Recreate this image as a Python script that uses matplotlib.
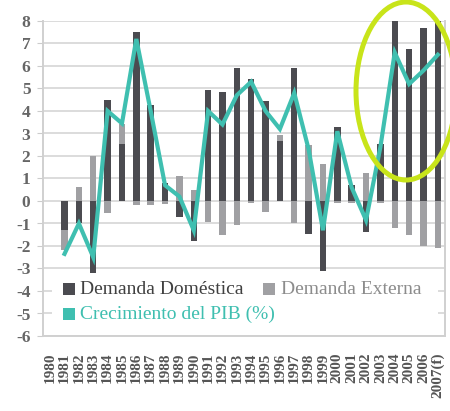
import numpy as np
import matplotlib
matplotlib.use("Agg")
import matplotlib.pyplot as plt
from matplotlib.patches import Rectangle, Ellipse

years = ["1980", "1981", "1982", "1983", "1984", "1985", "1986", "1987", "1988", "1989",
         "1990", "1991", "1992", "1993", "1994", "1995", "1996", "1997", "1998", "1999",
         "2000", "2001", "2002", "2003", "2004", "2005", "2006", "2007(f)"]
dom = [np.nan, -1.3, -1.0, -3.2, 4.5, 2.55, 7.5, 4.25, 0.8, -0.7,
       -1.8, 4.95, 4.85, 5.9, 5.4, 4.45, 2.65, 5.9, -1.45, -3.1,
       3.3, 0.7, -1.37, 2.55, 8.0, 6.75, 7.7, 8.0]
ext = [np.nan, -0.9, 0.6, 2.0, -0.55, 0.85, -0.2, -0.2, -0.15, 1.1,
       0.5, -0.92, -1.5, -1.07, -0.1, -0.5, 0.3, -0.97, 2.5, 1.65,
       -0.1, -0.1, 1.23, -0.1, -1.22, -1.5, -2.0, -2.07]
gdp = [np.nan, -2.35, -1.0, -2.5, 4.0, 3.45, 7.2, 4.0, 0.7, 0.2,
       -1.3, 4.0, 3.4, 4.7, 5.3, 4.0, 3.2, 4.8, 2.3, -1.3,
       3.1, 0.6, -0.85, 2.4, 6.6, 5.2, 5.8, 6.5]

plt.rcParams['axes.unicode_minus'] = False
serif = ['Liberation Serif', 'DejaVu Serif']

W, H = 450, 411
fig = plt.figure(figsize=(W / 100, H / 100), dpi=100)
ax = fig.add_axes([43 / W, 1 - 336 / H, (445 - 43) / W, (336 - 21) / H])

c_dom = '#4b4b50'
c_ext = '#a0a0a3'
c_gdp = '#3fbfb0'

x = np.arange(len(years))
dom_a = np.array(dom, dtype=float)
ext_a = np.array(ext, dtype=float)
bottom_ext = np.where(np.sign(ext_a) == np.sign(dom_a), dom_a, 0.0)

bw = 0.45
ax.bar(x, dom_a, width=bw, color=c_dom, zorder=3)
ax.bar(x, ext_a, width=bw, bottom=bottom_ext, color=c_ext, zorder=3)
ax.plot(x, gdp, color=c_gdp, lw=3.0, zorder=4, solid_joinstyle='miter')

ax.set_xlim(-0.5, len(years) - 0.5)
ax.set_ylim(-6, 8)
ax.set_yticks(range(-6, 9))
ax.set_xticks(x)
ax.set_xticklabels(years, rotation=90, fontfamily=serif, fontweight='bold',
                   fontsize=11, color='#555555')
for lab in ax.get_yticklabels():
    lab.set_fontfamily(serif)
    lab.set_fontweight('bold')
    lab.set_fontsize(12.5)
    lab.set_color('#666666')
ax.tick_params(axis='y', length=4, color='#cccccc', pad=5)
ax.tick_params(axis='x', length=0, pad=12)
ax.grid(axis='y', color='#dcdcdc', lw=1.4, zorder=0)
ax.set_axisbelow(True)
ax.spines['top'].set_visible(False)
for s in ['left', 'right', 'bottom']:
    ax.spines[s].set_color('#d0d0d0')
    ax.spines[s].set_linewidth(1.4)

tf = fig.transFigure
def fx(px):
    return px / W
def fy(py):
    return 1 - py / H

# legend box (white) covering gridlines
fig.add_artist(Rectangle((fx(52), fy(332)), (438 - 52) / W, (332 - 275) / H,
                         transform=tf, facecolor='white', edgecolor='none', zorder=5))
sq = 12
fs_leg = 14
fig.add_artist(Rectangle((fx(63), fy(295)), sq / W, sq / H, transform=tf,
                         facecolor=c_dom, edgecolor='none', zorder=6))
fig.text(fx(80), fy(289), "Demanda Doméstica", fontfamily=serif, fontsize=fs_leg,
         color='#404040', va='center', ha='left', zorder=6)
fig.add_artist(Rectangle((fx(263), fy(295)), sq / W, sq / H, transform=tf,
                         facecolor=c_ext, edgecolor='none', zorder=6))
fig.text(fx(281), fy(289), "Demanda Externa", fontfamily=serif, fontsize=fs_leg,
         color='#8c8c8c', va='center', ha='left', zorder=6)
fig.add_artist(Rectangle((fx(63), fy(320)), sq / W, sq / H, transform=tf,
                         facecolor=c_gdp, edgecolor='none', zorder=6))
fig.text(fx(80), fy(314), "Crecimiento del PIB (%)", fontfamily=serif, fontsize=fs_leg,
         color=c_gdp, va='center', ha='left', zorder=6)

# highlight ellipse
fig.add_artist(Ellipse((fx(406), fy(91)), 100 / W, 178 / H, transform=tf,
                       fill=False, edgecolor='#c8e41a', lw=3.6, zorder=7))

fig.savefig('out.png', dpi=100, facecolor='white')
